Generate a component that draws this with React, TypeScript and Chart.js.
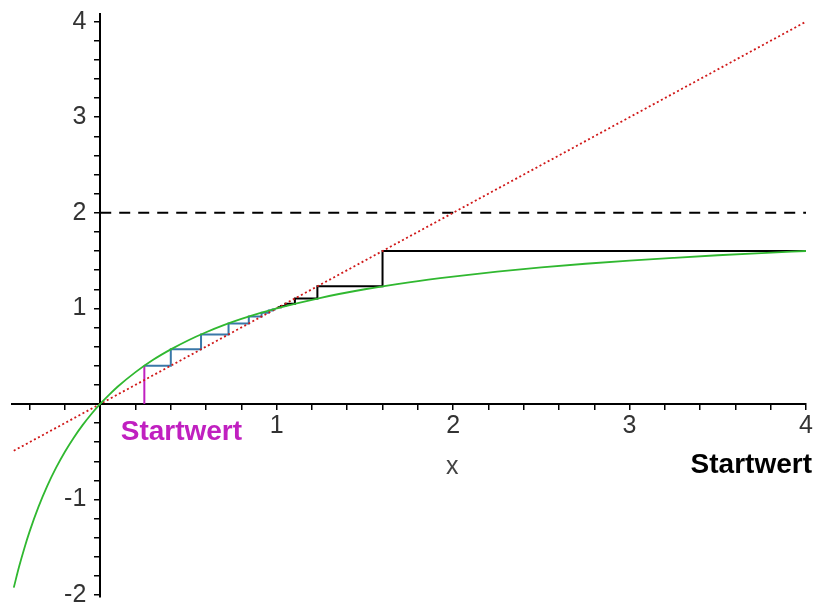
import React, { useEffect, useRef } from "react";
import { Chart, registerables } from "chart.js";

Chart.register(...registerables);

// green curve samples
const curveX = [-0.49, -0.46, -0.43, -0.4, -0.35, -0.3, -0.25, -0.2, -0.15, -0.1, -0.05, 0, 0.05, 0.1, 0.2, 0.3, 0.4, 0.5, 0.6, 0.7, 0.8, 0.9, 1, 1.25, 1.5, 1.75, 2, 2.25, 2.5, 2.75, 3, 3.25, 3.5, 3.75, 4];
const curveY = [-1.922, -1.704, -1.509, -1.333, -1.077, -0.857, -0.667, -0.5, -0.353, -0.222, -0.105, 0, 0.095, 0.182, 0.333, 0.462, 0.571, 0.667, 0.75, 0.824, 0.889, 0.947, 1, 1.111, 1.2, 1.273, 1.333, 1.385, 1.429, 1.467, 1.5, 1.529, 1.556, 1.579, 1.6];

// diagonal y = x (dotted red)
const diagX = [-0.49, 4];
const diagY = [-0.49, 4];

// asymptote (dashed black)
const asymX = [0, 4];
const asymY = [2, 2];

// start value marker (magenta)
const startX = [0.25, 0.25];
const startY = [0, 0.4];

// staircase from left start (blue)
const blueX = [0.25, 0.4, 0.4, 0.5714, 0.5714, 0.7273, 0.7273, 0.8421, 0.8421, 0.9143, 0.9143, 0.9552, 0.9552, 0.9771, 0.9771, 0.9884, 0.9884];
const blueY = [0.4, 0.4, 0.5714, 0.5714, 0.7273, 0.7273, 0.8421, 0.8421, 0.9143, 0.9143, 0.9552, 0.9552, 0.9771, 0.9771, 0.9884, 0.9884, 0.9942];

// staircase from right start (black)
const blackX = [4, 1.6, 1.6, 1.2308, 1.2308, 1.1034, 1.1034, 1.0492, 1.0492, 1.024, 1.024, 1.0119, 1.0119];
const blackY = [1.6, 1.6, 1.2308, 1.2308, 1.1034, 1.1034, 1.0492, 1.0492, 1.024, 1.024, 1.0119, 1.0119, 1.0059];

// tick labels
const xTickLabels = [1, 2, 3, 4];
const yTickLabels = [-2, -1, 1, 2, 3, 4];

// text annotations
const annotations = [
  { text: "Startwert", x: 0.46, y: -0.3, color: "#c020c0", font: "bold 28px 'Liberation Sans', Arial, sans-serif" },
  { text: "x", x: 1.995, y: -0.66, color: "#444", font: "25px 'Liberation Sans', Arial, sans-serif" },
  { text: "Startwert", x: 3.69, y: -0.64, color: "#000", font: "bold 28px 'Liberation Sans', Arial, sans-serif" },
];

const zip = (xs: number[], ys: number[]) => xs.map((x, i) => ({ x, y: ys[i] }));

const near = (v: number, list: number[]) => list.some((l) => Math.abs(l - v) < 1e-6);

const minorTicks = (from: number, to: number) => {
  const out: { value: number }[] = [];
  for (let i = Math.round(from * 5); i <= Math.round(to * 5); i++) out.push({ value: Math.round(i * 20) / 100 });
  return out;
};

const textPlugin = {
  id: "texts",
  afterDatasetsDraw(chart: any) {
    const { ctx } = chart;
    const xs = chart.scales.x;
    const ys = chart.scales.y;
    ctx.save();
    ctx.textAlign = "center";
    ctx.textBaseline = "middle";
    for (const a of annotations) {
      ctx.font = a.font;
      ctx.fillStyle = a.color;
      ctx.fillText(a.text, xs.getPixelForValue(a.x), ys.getPixelForValue(a.y));
    }
    ctx.restore();
  },
};

export default function App() {
  const ref = useRef<HTMLCanvasElement>(null);
  useEffect(() => {
    if (!ref.current) return;
    const family = "'Liberation Sans', Arial, sans-serif";
    const chart = new Chart(ref.current, {
      type: "scatter",
      data: {
        datasets: [
          { data: zip(curveX, curveY), showLine: true, borderColor: "#30b830", borderWidth: 1.8, pointRadius: 0, cubicInterpolationMode: "monotone" },
          { data: zip(diagX, diagY), showLine: true, borderColor: "#d01818", borderWidth: 1.8, borderDash: [2, 2.6], pointRadius: 0 },
          { data: zip(asymX, asymY), showLine: true, borderColor: "#000", borderWidth: 2, borderDash: [11, 8], pointRadius: 0 },
          { data: zip(startX, startY), showLine: true, borderColor: "#c020c0", borderWidth: 2, pointRadius: 0 },
          { data: zip(blueX, blueY), showLine: true, borderColor: "#3a78a8", borderWidth: 2, pointRadius: 0 },
          { data: zip(blackX, blackY), showLine: true, borderColor: "#000", borderWidth: 2, pointRadius: 0 },
        ] as any,
      },
      options: {
        animation: false,
        responsive: false,
        layout: { padding: { left: 12, right: 8, top: 14, bottom: 10 } },
        plugins: { legend: { display: false }, tooltip: { enabled: false } },
        scales: {
          x: {
            type: "linear",
            min: -0.5,
            max: 4,
            position: { y: 0 } as any,
            afterBuildTicks: (s: any) => { s.ticks = minorTicks(-0.4, 4); },
            grid: { drawOnChartArea: false, drawTicks: true, tickLength: 5, color: "#000", lineWidth: 1.5 },
            border: { display: true, color: "#000", width: 2 },
            ticks: {
              autoSkip: false,
              maxRotation: 0,
              padding: 0,
              color: "#333",
              font: { family, size: 25, lineHeight: 1.35 },
              callback: (v: any) => (near(Number(v), xTickLabels) ? String(Math.round(Number(v))) : ""),
            },
          },
          y: {
            type: "linear",
            min: -2.02,
            max: 4.08,
            position: { x: 0 } as any,
            afterBuildTicks: (s: any) => { s.ticks = minorTicks(-2, 4); },
            grid: { drawOnChartArea: false, drawTicks: true, tickLength: 5, color: "#000", lineWidth: 1.5 },
            border: { display: true, color: "#000", width: 2 },
            ticks: {
              autoSkip: false,
              padding: 0,
              color: "#333",
              font: { family, size: 25, lineHeight: 0.8 },
              callback: (v: any) => (near(Number(v), yTickLabels) ? String(Math.round(Number(v))) + "  " : ""),
            },
          },
        },
      },
      plugins: [textPlugin],
    });
    return () => chart.destroy();
  }, []);
  return (
    <div style={{ position: "absolute", left: 0, top: 0, width: 814, height: 607, background: "#fff" }}>
      <canvas ref={ref} width={814} height={607} style={{ display: "block" }} />
    </div>
  );
}
